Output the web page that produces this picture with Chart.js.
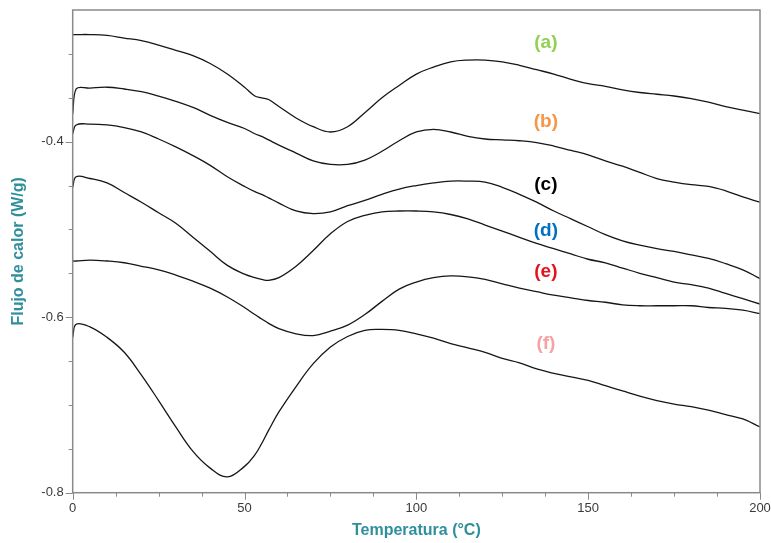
<!DOCTYPE html>
<html>
<head>
<meta charset="utf-8">
<script src="https://cdn.jsdelivr.net/npm/chart.js@4/dist/chart.umd.min.js"></script>
<style>
  html, body { margin: 0; padding: 0; background: #fff; }
  canvas { display: block; }
</style>
</head>
<body>
<canvas id="dscChart" width="771" height="543"></canvas>
<script>
// Temperature (°C) sample points shared by all curves
const temps = [0, 1, 5, 10, 15, 20, 25, 30, 35, 40, 45, 50, 53, 55, 57, 60, 65, 70, 75, 80, 85, 90, 95, 100,
    105, 110, 115, 120, 125, 130, 135, 140, 145, 150, 155, 160, 165, 170, 175, 180, 185, 190, 195, 200];

// Heat flow (W/g) for each sample
const flowA = [-0.278, -0.278, -0.278, -0.279, -0.282, -0.285, -0.290, -0.296, -0.302, -0.311, -0.323,
    -0.338, -0.348, -0.350, -0.352, -0.360, -0.373, -0.383, -0.389, -0.383, -0.367, -0.350, -0.336, -0.323,
    -0.315, -0.309, -0.307, -0.307, -0.309, -0.313, -0.318, -0.323, -0.329, -0.334, -0.337, -0.341, -0.344,
    -0.346, -0.348, -0.351, -0.355, -0.360, -0.364, -0.368];
const flowB = [-0.368, -0.340, -0.339, -0.338, -0.340, -0.343, -0.348, -0.354, -0.361, -0.370, -0.378,
    -0.385, -0.391, -0.394, -0.398, -0.404, -0.413, -0.422, -0.426, -0.426, -0.421, -0.411, -0.399, -0.389,
    -0.386, -0.389, -0.394, -0.397, -0.398, -0.399, -0.401, -0.405, -0.410, -0.415, -0.422, -0.428, -0.435,
    -0.442, -0.446, -0.449, -0.451, -0.456, -0.463, -0.469];
const flowC = [-0.391, -0.381, -0.380, -0.381, -0.384, -0.389, -0.397, -0.406, -0.416, -0.427, -0.440,
    -0.451, -0.457, -0.460, -0.464, -0.470, -0.479, -0.482, -0.480, -0.473, -0.467, -0.460, -0.454, -0.450,
    -0.447, -0.445, -0.445, -0.446, -0.452, -0.460, -0.469, -0.479, -0.488, -0.497, -0.506, -0.513, -0.518,
    -0.522, -0.525, -0.529, -0.533, -0.539, -0.546, -0.556];
const flowD = [-0.452, -0.440, -0.442, -0.447, -0.458, -0.469, -0.481, -0.493, -0.509, -0.525, -0.541,
    -0.551, -0.555, -0.557, -0.558, -0.555, -0.542, -0.524, -0.505, -0.491, -0.484, -0.480, -0.479, -0.479,
    -0.480, -0.483, -0.488, -0.495, -0.502, -0.509, -0.516, -0.522, -0.528, -0.534, -0.538, -0.544, -0.550,
    -0.555, -0.560, -0.563, -0.567, -0.573, -0.579, -0.585];
const flowE = [-0.536, -0.536, -0.535, -0.536, -0.538, -0.542, -0.546, -0.552, -0.559, -0.567, -0.577,
    -0.589, -0.597, -0.602, -0.607, -0.613, -0.619, -0.621, -0.616, -0.609, -0.597, -0.582, -0.568, -0.560,
    -0.555, -0.553, -0.554, -0.557, -0.562, -0.567, -0.571, -0.575, -0.578, -0.581, -0.583, -0.586, -0.587,
    -0.587, -0.587, -0.587, -0.589, -0.590, -0.592, -0.596];
const flowF = [-0.623, -0.608, -0.611, -0.623, -0.640, -0.666, -0.695, -0.725, -0.753, -0.772, -0.782,
    -0.770, -0.757, -0.744, -0.729, -0.708, -0.679, -0.653, -0.634, -0.622, -0.615, -0.614, -0.615, -0.619,
    -0.624, -0.630, -0.635, -0.640, -0.647, -0.652, -0.659, -0.664, -0.668, -0.672, -0.678, -0.684, -0.690,
    -0.695, -0.699, -0.702, -0.706, -0.711, -0.716, -0.725];

// curve tags and where they sit (data units)
const tagNames = ['(a)', '(b)', '(c)', '(d)', '(e)', '(f)'];
const tagColors = ['#92d050', '#f79646', '#000000', '#0070c0', '#e3141c', '#f4a3a3'];
const tagTemp = [137.7, 137.7, 137.7, 137.7, 137.7, 137.7];
const tagFlow = [-0.287, -0.377, -0.449, -0.502, -0.548, -0.630];

const series = [flowA, flowB, flowC, flowD, flowE, flowF];
const titleColor = '#2f8f9d';
const axisColor = '#8a8a8a';
const labelColor = '#3a3a3a';
const fontFamily = '"Liberation Sans", Arial, sans-serif';

const frameAndTicks = {
    id: 'frameAndTicks',
    afterDraw(chart) {
        const {ctx, chartArea: a, scales} = chart;
        ctx.save();
        ctx.strokeStyle = axisColor;
        ctx.lineWidth = 1.5;
        ctx.strokeRect(a.left, a.top, a.right - a.left, a.bottom - a.top);

        ctx.lineWidth = 1;
        ctx.beginPath();
        scales.x.ticks.forEach(t => {
            const px = Math.round(scales.x.getPixelForValue(t.value)) + 0.5;
            const len = Math.round(t.value) % 50 === 0 ? 7 : 4;
            ctx.moveTo(px, a.bottom);
            ctx.lineTo(px, a.bottom + len);
        });
        scales.y.ticks.forEach(t => {
            const r = Math.round(t.value * 100);
            if (r === -25) return;
            const py = Math.round(scales.y.getPixelForValue(t.value)) + 0.5;
            const len = r % 20 === 0 ? 7 : 4;
            ctx.moveTo(a.left, py);
            ctx.lineTo(a.left - len, py);
        });
        ctx.stroke();

        ctx.font = 'bold 19px ' + fontFamily;
        ctx.textAlign = 'center';
        ctx.textBaseline = 'middle';
        tagNames.forEach((name, i) => {
            ctx.fillStyle = tagColors[i];
            ctx.fillText(name, scales.x.getPixelForValue(tagTemp[i]), scales.y.getPixelForValue(tagFlow[i]));
        });
        ctx.restore();
    }
};

const ctx = document.getElementById('dscChart').getContext('2d');
const dscChart = new Chart(ctx, {
    type: 'line',
    data: {
        datasets: series.map(s => ({
            data: temps.map((t, i) => ({x: t, y: s[i]})),
            borderColor: '#161616',
            borderWidth: 1.3,
            pointRadius: 0,
            fill: false,
            tension: 0.4
        }))
    },
    options: {
        responsive: false,
        animation: false,
        devicePixelRatio: 1,
        layout: {
            padding: {left: 0, top: 10, right: 11, bottom: 0}
        },
        plugins: {
            legend: {display: false},
            tooltip: {enabled: false}
        },
        scales: {
            x: {
                type: 'linear',
                min: 0,
                max: 200,
                grid: {display: false, drawTicks: false},
                border: {display: false},
                ticks: {
                    stepSize: 12.5,
                    autoSkip: false,
                    maxRotation: 0,
                    padding: 8,
                    color: labelColor,
                    font: {family: fontFamily, size: 13},
                    callback: v => (Math.round(v) % 50 === 0 ? String(v) : '')
                },
                title: {
                    display: true,
                    text: 'Temperatura (°C)',
                    color: titleColor,
                    font: {family: fontFamily, size: 16, weight: 'bold'},
                    padding: {top: 0, bottom: 3}
                },
                afterFit: scale => {
                    scale.height = 50.3;
                    scale.paddingLeft = 0;
                    scale.paddingRight = 0;
                }
            },
            y: {
                min: -0.8,
                max: -0.25,
                grid: {display: false, drawTicks: false},
                border: {display: false},
                ticks: {
                    stepSize: 0.05,
                    autoSkip: false,
                    padding: 9,
                    color: labelColor,
                    font: {family: fontFamily, size: 13},
                    callback: v => (Math.round(v * 100) % 20 === 0 ? v.toFixed(1) : '')
                },
                title: {
                    display: true,
                    text: 'Flujo de calor (W/g)',
                    color: titleColor,
                    font: {family: fontFamily, size: 16, weight: 'bold'},
                    padding: {top: 9, bottom: 0}
                },
                afterFit: scale => {
                    scale.width = 72.7;
                    scale.paddingTop = 0;
                    scale.paddingBottom = 0;
                }
            }
        }
    },
    plugins: [frameAndTicks]
});
</script>
</body>
</html>
